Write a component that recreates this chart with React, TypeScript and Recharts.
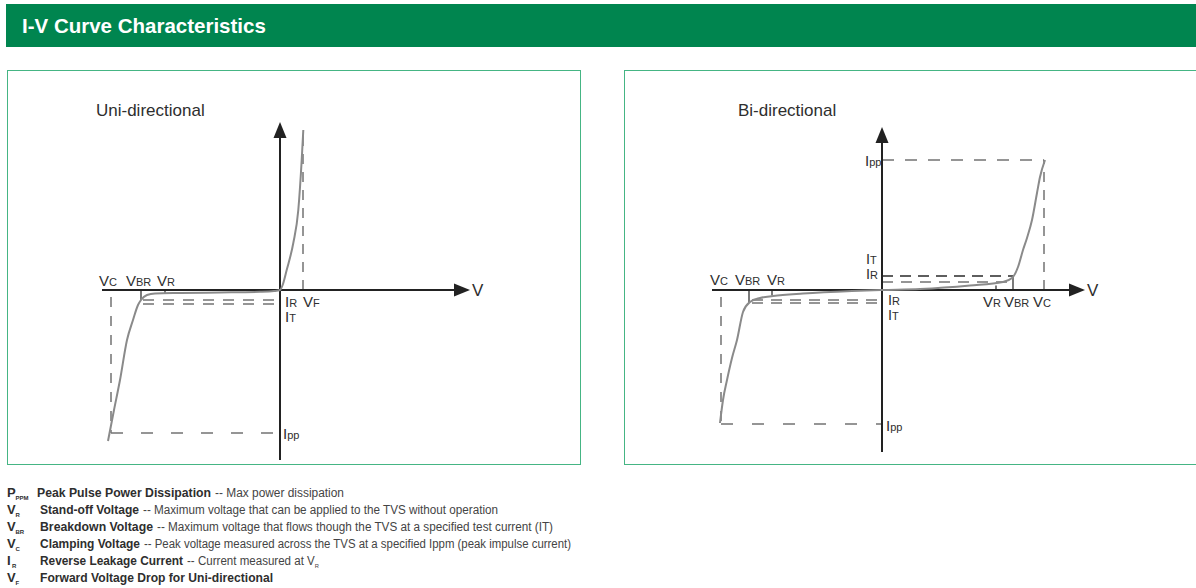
import React from 'react'
import { LineChart, Line, XAxis, YAxis, ReferenceLine, ReferenceDot } from 'recharts'

// Uni-directional TVS: avalanche branch on the left, forward conduction on the right
const uniCurve = [
  { v: -17.2, i: -15.1 },
  { v: -16.6, i: -12.0 },
  { v: -16.0, i: -9.0 },
  { v: -15.3, i: -5.0 },
  { v: -14.7, i: -3.0 },
  { v: -14.2, i: -1.5 },
  { v: -13.9, i: -1.0 },
  { v: -13.3, i: -0.5 },
  { v: -12.5, i: -0.35 },
  { v: -10.0, i: -0.3 },
  { v: -6.0, i: -0.25 },
  { v: -2.0, i: -0.18 },
  { v: -0.6, i: -0.1 },
  { v: 0, i: 0 },
  { v: 0.3, i: 0.6 },
  { v: 0.67, i: 2.0 },
  { v: 1.33, i: 4.7 },
  { v: 1.83, i: 8.0 },
  { v: 2.17, i: 13.0 },
  { v: 2.33, i: 16.0 },
]
const uniVolts = { vc: -16.9, vbr: -13.9, vr: -11.5, vf: 2.3 }
const uniAmps = { ipp: -14.3, ir: -1.0, it: -1.4, vrKnee: -0.35, vfTop: 16.0 }
const uniAxis = { vMin: -17.8, vMax: 19.0, iMin: -17.0, iMax: 16.8 }

// Bi-directional TVS: symmetric avalanche on both sides
const biCurve = [
  { v: -16.2, i: -13.3 },
  { v: -15.9, i: -11.0 },
  { v: -15.5, i: -9.0 },
  { v: -15.0, i: -6.8 },
  { v: -14.5, i: -5.0 },
  { v: -13.9, i: -2.2 },
  { v: -13.2, i: -1.2 },
  { v: -12.2, i: -0.8 },
  { v: -10.9, i: -0.6 },
  { v: -7.9, i: -0.35 },
  { v: -3.0, i: -0.1 },
  { v: 0, i: 0 },
  { v: 3.8, i: 0.1 },
  { v: 8.8, i: 0.45 },
  { v: 12.1, i: 0.8 },
  { v: 13.0, i: 1.2 },
  { v: 13.6, i: 2.3 },
  { v: 14.1, i: 4.0 },
  { v: 14.5, i: 5.2 },
  { v: 15.0, i: 7.0 },
  { v: 15.5, i: 9.7 },
  { v: 15.8, i: 11.3 },
  { v: 16.3, i: 13.0 },
]
const biVolts = { vcNeg: -16.1, vbrNeg: -13.3, vrNeg: -11.0, irNegStart: -13.0, vr: 11.4, vbr: 13.1, vc: 16.2 }
const biAmps = { ippNeg: -13.4, irNeg: -1.0, itNeg: -1.3, vrNegKnee: -0.55, vbrNegKnee: -1.3, ir: 0.8, it: 1.4, vrKnee: 0.45, ipp: 13.0 }
const biAxis = { vMin: -17.0, vMax: 20.3, iMin: -16.2, iMax: 16.3 }

const legendRows = [
  { sym: 'P', sub: 'PPM', term: 'Peak Pulse Power Dissipation', note: '-- Max power dissipation', noteSub: '' },
  { sym: 'V', sub: 'R', term: 'Stand-off Voltage', note: '-- Maximum voltage that can be applied to the TVS without operation', noteSub: '' },
  { sym: 'V', sub: 'BR', term: 'Breakdown Voltage', note: '--  Maximum voltage that flows though the TVS at a specified test current (IT)', noteSub: '' },
  { sym: 'V', sub: 'C', term: 'Clamping Voltage', note: '-- Peak voltage measured across the TVS at a specified Ippm (peak impulse current)', noteSub: '' },
  { sym: 'I', sub: 'R', term: 'Reverse Leakage Current', note: '-- Current measured at V', noteSub: 'R' },
  { sym: 'V', sub: 'F', term: 'Forward Voltage Drop for Uni-directional', note: '', noteSub: '' },
]
// x where each term starts, where it ends, where the note ends
const legendFit = [
  [37, 211, 344],
  [40, 139, 498],
  [40, 153, 553],
  [40, 140, 571],
  [40, 183, 319],
  [40, 273, 273],
]

const FONT = '"Liberation Sans", Arial, Helvetica, sans-serif'
const NARROW = '"Liberation Sans Narrow", "Arial Narrow", "Liberation Sans", Arial, sans-serif'
const INK = '#2e2e2e'
const AXIS = '#222'
const CURVE = '#8a8a8a'
const DASH = '#737373'
const DARK_DASH = '#2a2a2a'
const FRAME = '#45b584'
const GREEN = '#00854f'

const Y_DOMAIN: [number, number] = [-17.5, 22]

function tag(main: string, sub: string, dx: number, dy: number, size = 15) {
  return (p: any) => (
    <text x={p.cx + dx} y={p.cy + dy} fill={INK} fontSize={size} fontFamily={FONT}>
      {main}
      {sub ? <tspan fontSize={Math.round(size * 0.74)}>{sub}</tspan> : null}
    </text>
  )
}

const upArrow = (p: any) => (
  <path d={`M${p.cx},${p.cy} L${p.cx - 6.5},${p.cy + 16} L${p.cx + 6.5},${p.cy + 16} Z`} fill={AXIS} />
)
const rightArrow = (p: any) => (
  <path d={`M${p.cx},${p.cy} L${p.cx - 16},${p.cy - 6.5} L${p.cx - 16},${p.cy + 6.5} Z`} fill={AXIS} />
)

function seg(x1: number, y1: number, x2: number, y2: number, stroke: string, dash?: string, width = 1.5) {
  return (
    <ReferenceLine
      segment={[{ x: x1, y: y1 }, { x: x2, y: y2 }]}
      stroke={stroke}
      strokeWidth={width}
      strokeDasharray={dash}
    />
  )
}

function Axes({ a }: { a: typeof uniAxis }) {
  return (
    <>
      {seg(a.vMin, 0, a.vMax - 1, 0, AXIS, undefined, 2)}
      {seg(0, a.iMin, 0, a.iMax - 1, AXIS, undefined, 2)}
      <ReferenceDot x={0} y={a.iMax} r={0} shape={upArrow} />
      <ReferenceDot x={a.vMax} y={0} r={0} shape={rightArrow} />
    </>
  )
}

function UniChart() {
  const v = uniVolts
  const i = uniAmps
  return (
    <LineChart width={574} height={395} data={uniCurve} margin={{ top: 0, right: 0, bottom: 0, left: 0 }}>
      <XAxis type="number" dataKey="v" domain={[-27.3, 30.1]} allowDataOverflow hide />
      <YAxis type="number" domain={Y_DOMAIN} allowDataOverflow hide />

      {seg(v.vc, -0.7, v.vc, i.ipp, DASH, '10 9')}
      {seg(v.vc, i.ipp, 0, i.ipp, DASH, '12 18')}
      {seg(-13.7, i.ir, 0, i.ir, DASH, '11 9')}
      {seg(-13.7, i.it, 0, i.it, DASH, '11 9')}
      {seg(v.vf, 0, v.vf, i.vfTop, DASH, '10 8')}
      {seg(v.vbr, 0, v.vbr, i.ir, AXIS, undefined, 1.2)}
      {seg(v.vr, 0, v.vr, i.vrKnee, AXIS, undefined, 1.2)}

      <Axes a={uniAxis} />

      <Line type="monotone" dataKey="i" stroke={CURVE} strokeWidth={2} dot={false} isAnimationActive={false} />

      <ReferenceDot x={v.vc} y={0} r={0} shape={tag('V', 'C', -12, -4)} />
      <ReferenceDot x={v.vbr} y={0} r={0} shape={tag('V', 'BR', -15, -4)} />
      <ReferenceDot x={v.vr} y={0} r={0} shape={tag('V', 'R', -8, -4)} />
      <ReferenceDot x={0} y={0} r={0} shape={tag('I', 'R', 5, 17)} />
      <ReferenceDot x={v.vf} y={0} r={0} shape={tag('V', 'F', 0, 17)} />
      <ReferenceDot x={0} y={0} r={0} shape={tag('I', 'T', 5, 32)} />
      <ReferenceDot x={0} y={i.ipp} r={0} shape={tag('I', 'pp', 3, 6)} />
      <ReferenceDot x={uniAxis.vMax} y={0} r={0} shape={tag('V', '', 2, 6, 17)} />
    </LineChart>
  )
}

function BiChart() {
  const v = biVolts
  const i = biAmps
  return (
    <LineChart width={580} height={395} data={biCurve} margin={{ top: 0, right: 0, bottom: 0, left: 0 }}>
      <XAxis type="number" dataKey="v" domain={[-25.8, 32.2]} allowDataOverflow hide />
      <YAxis type="number" domain={Y_DOMAIN} allowDataOverflow hide />

      {seg(v.vcNeg, -0.7, v.vcNeg, i.ippNeg, DASH, '10 9')}
      {seg(v.vcNeg, i.ippNeg, 0, i.ippNeg, DASH, '12 19')}
      {seg(v.irNegStart, i.irNeg, 0, i.irNeg, DASH, '11 8')}
      {seg(v.irNegStart, i.itNeg, 0, i.itNeg, DASH, '11 8')}
      {seg(0, i.ipp, v.vc, i.ipp, DASH, '12 11')}
      {seg(v.vc, 0, v.vc, i.ipp, DASH, '10 8')}
      {seg(0, i.ir, v.vbr, i.ir, DASH, '11 8')}
      {seg(0, i.it, v.vbr, i.it, DARK_DASH, '11 7', 1.3)}
      {seg(v.vbrNeg, 0, v.vbrNeg, i.vbrNegKnee, AXIS, undefined, 1.2)}
      {seg(v.vrNeg, 0, v.vrNeg, i.vrNegKnee, AXIS, undefined, 1.2)}
      {seg(v.vbr, 0, v.vbr, i.it, AXIS, undefined, 1.2)}
      {seg(v.vr, 0, v.vr, i.vrKnee, AXIS, undefined, 1.2)}

      <Axes a={biAxis} />

      <Line type="monotone" dataKey="i" stroke={CURVE} strokeWidth={2} dot={false} isAnimationActive={false} />

      <ReferenceDot x={v.vcNeg} y={0} r={0} shape={tag('V', 'C', -11, -5)} />
      <ReferenceDot x={v.vbrNeg} y={0} r={0} shape={tag('V', 'BR', -14, -5)} />
      <ReferenceDot x={v.vrNeg} y={0} r={0} shape={tag('V', 'R', -5, -5)} />
      <ReferenceDot x={0} y={0} r={0} shape={tag('I', 'R', 6, 15, 14.5)} />
      <ReferenceDot x={0} y={0} r={0} shape={tag('I', 'T', 6, 30, 14.5)} />
      <ReferenceDot x={v.vr} y={0} r={0} shape={tag('V', 'R', -13, 17)} />
      <ReferenceDot x={v.vbr} y={0} r={0} shape={tag('V', 'BR', -9, 17)} />
      <ReferenceDot x={v.vc} y={0} r={0} shape={tag('V', 'C', -11, 17)} />
      <ReferenceDot x={0} y={i.ipp} r={0} shape={tag('I', 'pp', -17, 6)} />
      <ReferenceDot x={0} y={i.it} r={0} shape={tag('I', 'T', -16, -12, 14.5)} />
      <ReferenceDot x={0} y={i.ir} r={0} shape={tag('I', 'R', -16, -3, 14.5)} />
      <ReferenceDot x={0} y={i.ippNeg} r={0} shape={tag('I', 'pp', 4, 7)} />
      <ReferenceDot x={biAxis.vMax} y={0} r={0} shape={tag('V', '', 2, 6, 17)} />
    </LineChart>
  )
}

function Legend() {
  return (
    <svg width={600} height={108} style={{ position: 'absolute', left: 0, top: 480 }}>
      {legendRows.map((row, k) => {
        const [x0, x1, x2] = legendFit[k]
        const y = 17 + k * 17
        return (
          <g key={row.term} fontFamily={NARROW} fill={INK}>
            <text x={7} y={y} fontSize={13} fontWeight="bold">
              {row.sym}
            </text>
            <text x={row.sym === 'I' ? 12 : 15.5} y={y + 3} fontSize={6} fontWeight="bold">
              {row.sub}
            </text>
            <text x={x0} y={y} fontSize={12} fontWeight="bold" textLength={x1 - x0} lengthAdjust="spacingAndGlyphs">
              {row.term}
            </text>
            {row.note ? (
              <text x={x1 + 4} y={y} fontSize={12} fill="#444" textLength={x2 - x1 - 4} lengthAdjust="spacingAndGlyphs">
                {row.note}
                {row.noteSub ? (
                  <tspan fontSize={6} dy={3}>
                    {row.noteSub}
                  </tspan>
                ) : null}
              </text>
            ) : null}
          </g>
        )
      })}
    </svg>
  )
}

export default function App() {
  return (
    <div
      style={{
        position: 'absolute',
        left: 0,
        top: 0,
        width: 1196,
        height: 588,
        overflow: 'hidden',
        background: '#fff',
        fontFamily: FONT,
      }}
    >
      <div
        style={{
          position: 'absolute',
          left: 6,
          top: 4,
          width: 1190,
          height: 43,
          background: GREEN,
          color: '#fff',
          fontWeight: 'bold',
          fontSize: 20.5,
          lineHeight: '43px',
          paddingLeft: 16,
          boxSizing: 'border-box',
        }}
      >
        I-V Curve Characteristics
      </div>

      <div style={{ position: 'absolute', left: 7, top: 70, width: 574, height: 395, border: `1.5px solid ${FRAME}`, boxSizing: 'border-box' }} />
      <div style={{ position: 'absolute', left: 624, top: 70, width: 600, height: 395, border: `1.5px solid ${FRAME}`, boxSizing: 'border-box' }} />

      <div style={{ position: 'absolute', left: 7, top: 70 }}>
        <UniChart />
      </div>
      <div style={{ position: 'absolute', left: 624, top: 70 }}>
        <BiChart />
      </div>

      <div style={{ position: 'absolute', left: 96, top: 101, fontSize: 17, lineHeight: '20px', color: INK }}>Uni-directional</div>
      <div style={{ position: 'absolute', left: 738, top: 101, fontSize: 17, lineHeight: '20px', color: INK }}>Bi-directional</div>

      <Legend />
    </div>
  )
}
